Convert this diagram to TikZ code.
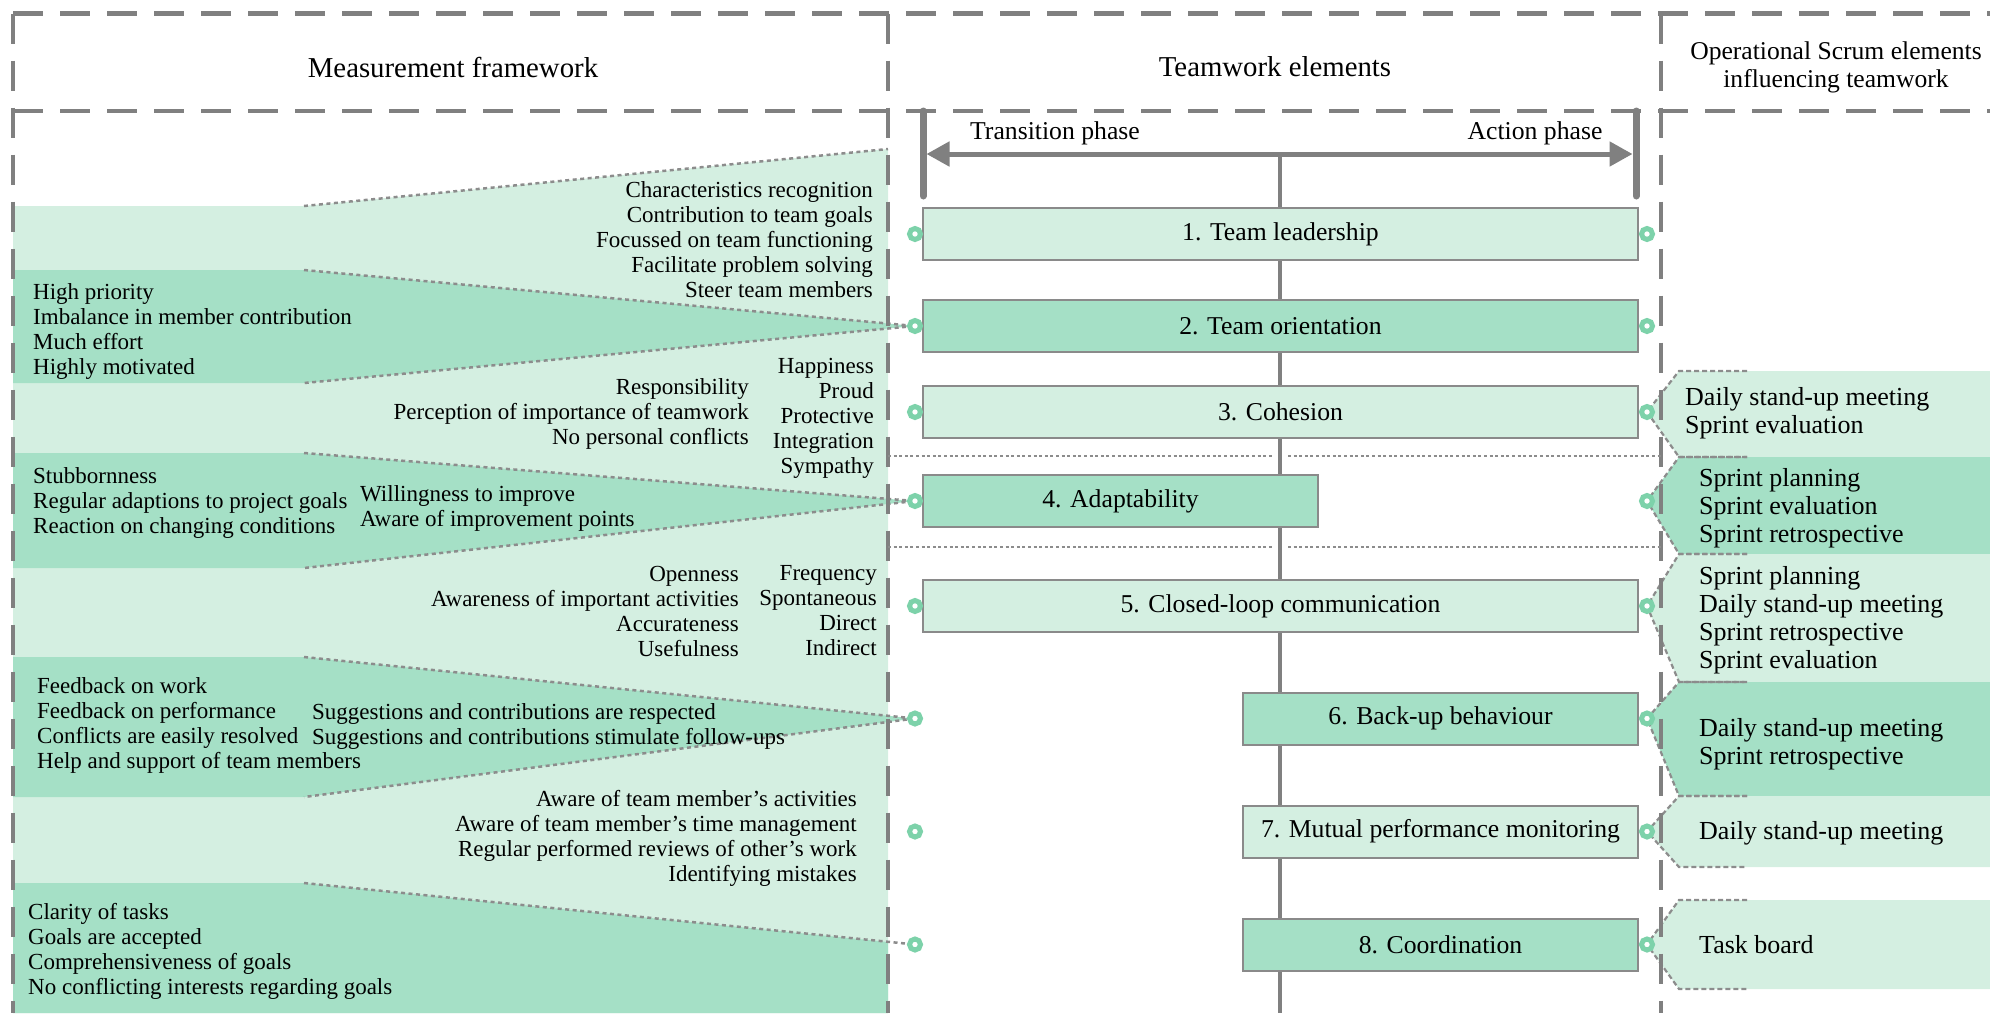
\documentclass[tikz,border=0pt]{standalone}
\usepackage{fontspec}
\setmainfont{Liberation Serif}
\usetikzlibrary{arrows.meta}

\definecolor{lightg}{HTML}{D4EFE1}
\definecolor{darkg}{HTML}{A5E0C6}
\definecolor{ringg}{HTML}{7DD2AA}
\definecolor{framegrey}{HTML}{808080}
\definecolor{dotgrey}{HTML}{8C8C8C}
\definecolor{boxgrey}{HTML}{8A8A8A}

\tikzset{
  frameline/.style={draw=framegrey, line width=4.7pt, dash pattern=on 30pt off 17pt},
  funnelline/.style={draw=dotgrey, line width=2.5pt, dash pattern=on 4pt off 3.5pt},
  tagline/.style={draw=dotgrey, line width=2.2pt, dash pattern=on 5pt off 3pt},
  sepline/.style={draw=dotgrey, line width=2.2pt, dash pattern=on 3pt off 2.6pt},
  phasebar/.style={draw=framegrey, line width=7pt, line cap=round},
  axisline/.style={draw=framegrey, line width=3.5pt},
  hdr/.style={font=\fontsize{28.8}{32}\selectfont, inner sep=0pt},
  scrumhdr/.style={font=\fontsize{25.6}{28}\selectfont, align=center, inner sep=0pt},
  phaselbl/.style={font=\fontsize{25.7}{28}\selectfont, inner sep=0pt},
  elembox/.style={draw=boxgrey, line width=2pt, minimum height=52pt,
    font=\fontsize{25.7}{28}\selectfont, inner sep=0pt},
  lightbox/.style={elembox, fill=lightg},
  darkbox/.style={elembox, fill=darkg},
  ring/.style={circle, draw=ringg, fill=white, line width=5pt, minimum size=11pt, inner sep=0pt},
  mtxtR/.style={font=\fontsize{23}{25}\selectfont, align=right, anchor=east, inner sep=0pt},
  mtxtL/.style={font=\fontsize{23}{25}\selectfont, align=left, anchor=west, inner sep=0pt},
  tagtxt/.style={font=\fontsize{26}{28}\selectfont, align=left, anchor=west, inner sep=0pt},
}

\begin{document}
\begin{tikzpicture}[x=1pt,y=-1pt]
\useasboundingbox (0,0) rectangle (1990,1013);

% attachment points left and right of each teamwork element
\foreach \i/\y in {1/234,2/326,3/412,4/501,5/606,6/718.5,7/831.5,8/944.5} {
  \coordinate (l\i) at (915,\y);
  \coordinate (r\i) at (1647,\y);
}

% ---------- measurement framework column ----------
\coordinate (f1a) at (304,206);  \coordinate (f1b) at (888,149);
\coordinate (f2a) at (304,270);  \coordinate (f2b) at (304,383);
\coordinate (f4a) at (304,453);  \coordinate (f4b) at (304,568);
\coordinate (f6a) at (304,657);  \coordinate (f6b) at (304,797);
\coordinate (f8a) at (304,883);  \coordinate (f8b) at (888,942);

\fill[lightg] (13,206) -- (f1a) -- (f1b) -- (888,1013) -- (13,1013) -- cycle;
\fill[darkg] (13,270) -- (f2a) -- (l2) -- (f2b) -- (13,383) -- cycle;
\fill[darkg] (13,453) -- (f4a) -- (l4) -- (f4b) -- (13,568) -- cycle;
\fill[darkg] (13,657) -- (f6a) -- (l6) -- (f6b) -- (13,797) -- cycle;
\fill[darkg] (13,883) -- (f8a) -- (f8b) -- (888,1013) -- (13,1013) -- cycle;

\draw[funnelline] (f1a) -- (f1b);
\draw[funnelline] (f2a) -- (l2) -- (f2b);
\draw[funnelline] (f4a) -- (l4) -- (f4b);
\draw[funnelline] (f6a) -- (l6) -- (f6b);
\draw[funnelline] (f8a) -- (l8);

% ---------- operational Scrum elements (tags) ----------
\foreach \i/\t/\b/\c in {3/371/457/lightg, 4/457/554/darkg, 5/554/682/lightg,
                          6/682/796/darkg, 7/796/867/lightg, 8/900/989/lightg} {
  \coordinate (t\i a) at (1679,\t);
  \coordinate (t\i b) at (1679,\b);
  \fill[\c] (r\i) -- (t\i a) -- (1990,\t) -- (1990,\b) -- (t\i b) -- cycle;
}
\foreach \i/\t/\b in {3/371/457, 4/457/554, 5/554/682, 6/682/796, 7/796/867, 8/900/989} {
  \draw[tagline] (1747,\t) -- (t\i a) -- (r\i) -- (t\i b) -- (1747,\b);
}

% ---------- frame ----------
\draw[frameline] (13,13.5) -- (1990,13.5);
\draw[frameline] (13,111) -- (1990,111);
\draw[frameline] (13,13.5) -- (13,1013);
\draw[frameline] (888,13.5) -- (888,1013);
\draw[frameline] (1661,13.5) -- (1661,1013);

% separators between the groups of teamwork elements
\draw[sepline] (888,456) -- (1272,456);
\draw[sepline] (1288,456) -- (1661,456);
\draw[sepline] (888,547) -- (1272,547);
\draw[sepline] (1288,547) -- (1661,547);

% ---------- phase axis ----------
\coordinate (axisTop) at (1280,154);
\coordinate (axisBot) at (1280,1013);
\draw[axisline] (axisTop) -- (axisBot);

\coordinate (barLtop) at (923,111);  \coordinate (barLbot) at (923,196);
\coordinate (barRtop) at (1636,111); \coordinate (barRbot) at (1636,196);
\draw[phasebar] (barLtop) -- (barLbot);
\draw[phasebar] (barRtop) -- (barRbot);
\coordinate (arrL) at (926.5,154);
\coordinate (arrR) at (1632.5,154);
\draw[draw=framegrey, line width=5pt,
  {Triangle[length=23pt,width=24pt]}-{Triangle[length=23pt,width=24pt]}] (arrL) -- (arrR);

\node[phaselbl] (transition) at (1055,133) {Transition phase};
\node[phaselbl] (action) at (1535,133) {Action phase};

% ---------- headers ----------
\node[hdr] (hMeasure) at (453,67) {Measurement framework};
\node[hdr] (hTeam) at (1275,67) {Teamwork elements};
\node[scrumhdr] (hScrum) at (1836,67) {Operational Scrum elements\\influencing teamwork};

% ---------- teamwork elements ----------
\node[lightbox, minimum width=715pt] (e1) at (1280.5,234) {1. Team leadership};
\node[darkbox,  minimum width=715pt] (e2) at (1280.5,326) {2. Team orientation};
\node[lightbox, minimum width=715pt] (e3) at (1280.5,412) {3. Cohesion};
\node[darkbox,  minimum width=395pt] (e4) at (1120.5,501) {4. Adaptability};
\node[lightbox, minimum width=715pt] (e5) at (1280.5,606) {5. Closed-loop communication};
\node[darkbox,  minimum width=395pt] (e6) at (1440.5,718.5) {6. Back-up behaviour};
\node[lightbox, minimum width=395pt] (e7) at (1440.5,831.5) {7. Mutual performance monitoring};
\node[darkbox,  minimum width=395pt] (e8) at (1440.5,944.5) {8. Coordination};

\foreach \i in {1,...,8} {
  \node[ring] (L\i) at (l\i) {};
  \node[ring] (R\i) at (r\i) {};
}

% ---------- measurement items ----------
\node[mtxtR] (m1) at (873,240) {Characteristics recognition\\Contribution to team goals\\Focussed on team functioning\\Facilitate problem solving\\Steer team members};
\node[mtxtL] (m2) at (33,331) {High priority\\Imbalance in member contribution\\Much effort\\Highly motivated};
\node[mtxtR] (m3a) at (749,414) {Responsibility\\Perception of importance of teamwork\\No personal conflicts};
\node[mtxtR] (m3b) at (874,418) {Happiness\\Proud\\Protective\\Integration\\Sympathy};
\node[mtxtL] (m4a) at (33,503) {Stubbornness\\Regular adaptions to project goals\\Reaction on changing conditions};
\node[mtxtL] (m4b) at (360,508) {Willingness to improve\\Aware of improvement points};
\node[mtxtR] (m5a) at (739,611) {Openness\\Awareness of important activities\\Accurateness\\Usefulness};
\node[mtxtR] (m5b) at (877,611) {Frequency\\Spontaneous\\Direct\\Indirect};
\node[mtxtL] (m6a) at (37,725) {Feedback on work\\Feedback on performance\\Conflicts are easily resolved\\Help and support of team members};
\node[mtxtL] (m6b) at (312,726) {Suggestions and contributions are respected\\Suggestions and contributions stimulate follow-ups};
\node[mtxtR] (m7) at (857,838) {Aware of team member’s activities\\Aware of team member’s time management\\Regular performed reviews of other’s work\\Identifying mistakes};
\node[mtxtL] (m8) at (28,951) {Clarity of tasks\\Goals are accepted\\Comprehensiveness of goals\\No conflicting interests regarding goals};

% ---------- Scrum items ----------
\node[tagtxt] (s3) at (1685,413) {Daily stand-up meeting\\Sprint evaluation};
\node[tagtxt] (s4) at (1699,508) {Sprint planning\\Sprint evaluation\\Sprint retrospective};
\node[tagtxt] (s5) at (1699,620) {Sprint planning\\Daily stand-up meeting\\Sprint retrospective\\Sprint evaluation};
\node[tagtxt] (s6) at (1699,744) {Daily stand-up meeting\\Sprint retrospective};
\node[tagtxt] (s7) at (1699,833) {Daily stand-up meeting};
\node[tagtxt] (s8) at (1699,945) {Task board};
\end{tikzpicture}
\end{document}
